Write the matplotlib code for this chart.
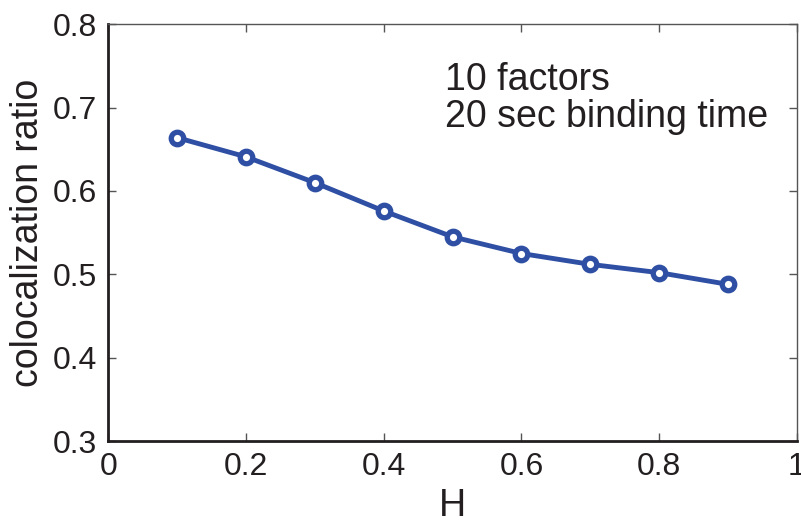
import matplotlib.pyplot as plt

plt.rcParams['font.family'] = ['Liberation Sans', 'DejaVu Sans']

# colocalization ratio vs H
h = [0.1, 0.2, 0.3, 0.4, 0.5, 0.6, 0.7, 0.8, 0.9]
ratio = [0.664, 0.641, 0.610, 0.576, 0.545, 0.525, 0.512, 0.502, 0.488]
xticks = [0, 0.2, 0.4, 0.6, 0.8, 1]
xticklabels = ['0', '0.2', '0.4', '0.6', '0.8', '1']
yticks = [0.3, 0.4, 0.5, 0.6, 0.7, 0.8]

fig = plt.figure(figsize=(8.01, 5.27), dpi=100)
ax = fig.add_axes([0.135, 0.163, 0.860, 0.791])

blue = '#2e4fa3'
ax.plot(h, ratio, color=blue, lw=3.5, marker='o', markersize=9,
        markerfacecolor='white', markeredgecolor=blue, markeredgewidth=3.8)

ax.set_xlim(0, 1)
ax.set_ylim(0.3, 0.8)
ax.set_xticks(xticks)
ax.set_xticklabels(xticklabels)
ax.set_yticks(yticks)
ax.tick_params(direction='in', top=True, right=True, length=6, width=1,
               color='#555555', labelsize=23, pad=8, labelcolor='#231f20')

for side in ['left', 'bottom']:
    ax.spines[side].set_linewidth(2)
    ax.spines[side].set_color('#231f20')
for side in ['top', 'right']:
    ax.spines[side].set_linewidth(1)
    ax.spines[side].set_color('#555555')

ax.set_xlabel('H', fontsize=27, color='#231f20', labelpad=4)
ax.set_ylabel('colocalization ratio', fontsize=27, color='#231f20', labelpad=5)

ax.text(0.489, 0.755, '10 factors\n20 sec binding time', fontsize=27,
        color='#231f20', va='top', ha='left', linespacing=1.05)

fig.savefig('out.png', dpi=100)
